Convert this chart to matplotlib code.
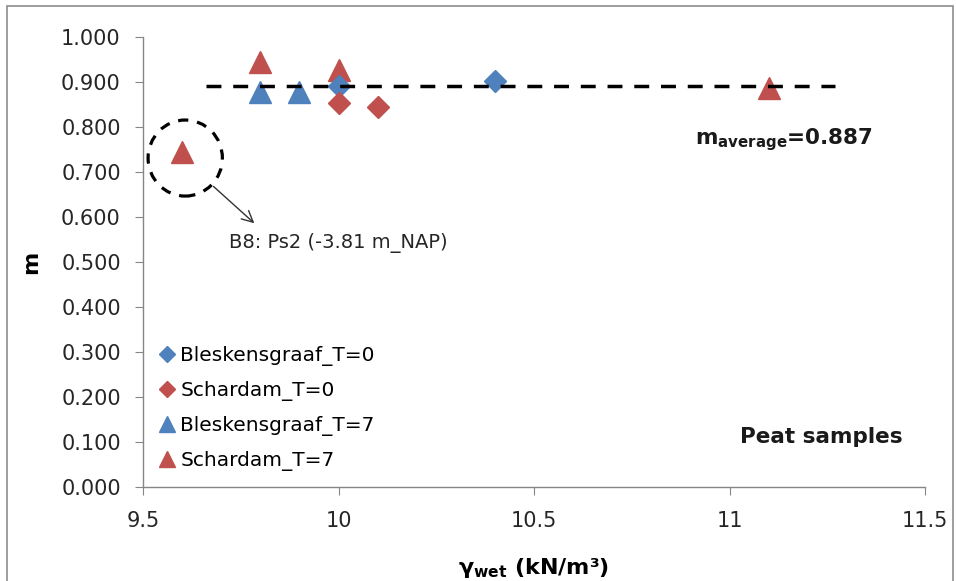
import matplotlib
matplotlib.use("Agg")
import matplotlib.pyplot as plt
from matplotlib.patches import Ellipse, Rectangle

plt.rcParams["font.family"] = ["DejaVu Sans"]
plt.rcParams["mathtext.fontset"] = "dejavusans"

# ── data ─────────────────────────────────────
bles_t0_x = [10.0, 10.4]
bles_t0_y = [0.891, 0.902]
scha_t0_x = [10.0, 10.1]
scha_t0_y = [0.853, 0.844]
bles_t7_x = [9.8, 9.9]
bles_t7_y = [0.878, 0.878]
scha_t7_x = [9.6, 9.8, 10.0, 11.1]
scha_t7_y = [0.744, 0.944, 0.927, 0.887]

avg_line_x = [9.66, 11.27]
avg_line_y = [0.892, 0.892]

x_ticks = [9.5, 10, 10.5, 11, 11.5]
x_tick_labels = ["9.5", "10", "10.5", "11", "11.5"]
y_ticks = [0.0, 0.1, 0.2, 0.3, 0.4, 0.5, 0.6, 0.7, 0.8, 0.9, 1.0]

BLUE = "#4F81BD"
RED = "#C0504D"
AXIS = "#868686"
TXT = "#262626"

fig = plt.figure(figsize=(9.56, 5.81), dpi=100)
ax = fig.add_axes([143 / 956, 94 / 581, 782 / 956, 450 / 581])

ax.plot(bles_t0_x, bles_t0_y, "D", color=BLUE, ms=11, ls="none", label="Bleskensgraaf_T=0", zorder=4)
ax.plot(scha_t0_x, scha_t0_y, "D", color=RED, ms=11, ls="none", label="Schardam_T=0", zorder=4)
ax.plot(bles_t7_x, bles_t7_y, "^", color=BLUE, ms=16, ls="none", label="Bleskensgraaf_T=7", zorder=3)
ax.plot(scha_t7_x, scha_t7_y, "^", color=RED, ms=16, ls="none", label="Schardam_T=7", zorder=3)

# average line on top of the markers
ax.plot(avg_line_x, avg_line_y, color="black", lw=2.5, dashes=(4.3, 3.4), zorder=5)

# circled outlier + arrow
ax.add_patch(Ellipse((9.608, 0.731), 0.19, 0.169, fill=False, ec="black",
                     lw=2.3, ls=(0, (3.2, 2.8)), zorder=5))
ax.annotate("", xy=(9.79, 0.582), xytext=(9.675, 0.672),
            arrowprops=dict(arrowstyle="->", color="#333333", lw=1.0,
                            mutation_scale=20))
ax.text(9.72, 0.542, "B8: Ps2 (-3.81 m_NAP)", fontsize=14, color=TXT,
        ha="left", va="center")

ax.text(10.913, 0.772, r"m$_{\mathregular{average}}$=0.887", fontsize=15.5,
        fontweight="bold", ha="left", va="center", color="#1a1a1a")
ax.text(11.236, 0.111, "Peat samples", fontsize=15.5, fontweight="bold",
        ha="center", va="center", color="#1a1a1a")

ax.set_xlim(9.5, 11.5)
ax.set_ylim(0, 1.0)
ax.set_xticks(x_ticks)
ax.set_xticklabels(x_tick_labels)
ax.set_yticks(y_ticks)
ax.set_yticklabels([f"{v:.3f}" for v in y_ticks])

for side in ["top", "right"]:
    ax.spines[side].set_visible(False)
for side in ["left", "bottom"]:
    ax.spines[side].set_color(AXIS)
    ax.spines[side].set_linewidth(1.0)
ax.tick_params(direction="out", length=6, color=AXIS, labelsize=15,
               labelcolor=TXT)
ax.tick_params(axis="x", pad=11)
ax.tick_params(axis="y", pad=10)

ax.set_xlabel(r"$\mathbf{\gamma}_{\mathbf{wet}}$ (kN/m³)", fontsize=16,
              fontweight="bold", labelpad=18)
ax.set_ylabel("m", fontsize=16, fontweight="bold", labelpad=14)

ax.legend(loc="upper left", bbox_to_anchor=(0.0, 0.345), frameon=False,
          fontsize=14.5, handletextpad=0.15, handlelength=1.0, labelspacing=0.75,
          borderaxespad=0.3, markerscale=0.72)

# chart area border
fig.add_artist(Rectangle((7 / 956, -0.02), 946 / 956, 1 - 6 / 581 + 0.02,
                         transform=fig.transFigure, fill=False,
                         ec="#8c8c8c", lw=1.2))

fig.savefig("out.png", dpi=100, facecolor="white")
